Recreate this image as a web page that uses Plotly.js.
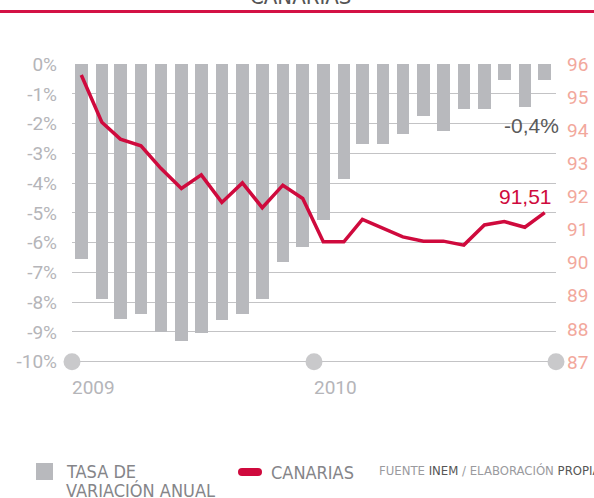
<!DOCTYPE html>
<html>
<head>
<meta charset="utf-8">
<script src="https://cdn.plot.ly/plotly-3.0.1.min.js"></script>
<style>html,body{margin:0;padding:0;background:#fff;}#chart{width:594px;height:498px;}</style>
</head>
<body>
<div id="chart"></div>
<script>
// ---- data ----
const months = ['2009-01-15','2009-02-15','2009-03-15','2009-04-15','2009-05-15','2009-06-15',
                '2009-07-15','2009-08-15','2009-09-15','2009-10-15','2009-11-15','2009-12-15',
                '2010-01-15','2010-02-15','2010-03-15','2010-04-15','2010-05-15','2010-06-15',
                '2010-07-15','2010-08-15','2010-09-15','2010-10-15','2010-11-15','2010-12-15'];
const tasaVariacion = [-6.55,-7.9,-8.55,-8.4,-9.0,-9.3,-9.05,-8.6,-8.4,-7.9,-6.65,-6.15,
                       -5.25,-3.85,-2.7,-2.7,-2.35,-1.75,-2.25,-1.5,-1.5,-0.55,-1.45,-0.55];
const canarias = [95.67,94.24,93.73,93.53,92.85,92.24,92.65,91.82,92.41,91.66,92.34,91.94,
                  90.63,90.63,91.31,91.04,90.78,90.65,90.65,90.53,91.14,91.24,91.07,91.51];
const yearTicks = ['2009-01-01','2010-01-01','2011-01-01'];
const yearLabels = ['2009','2010',''];
const leftTickVals = [0,-1,-2,-3,-4,-5,-6,-7,-8,-9,-10];
const leftTickText = ['0%','-1%','-2%','-3%','-4%','-5%','-6%','-7%','-8%','-9%','-10%'];
const rightTickVals = [87,88,89,90,91,92,93,94,95,96];
const lastRateLabel = '-0,4%';

const narrow = '"DejaVu Sans Condensed", "Liberation Sans Narrow", Roboto, sans-serif';
const helv = '"Liberation Sans", Arial, sans-serif';
const tickFont = 'Roboto, "Liberation Sans", sans-serif';

const traces = [
  {type:'bar', x:months, y:tasaVariacion, yaxis:'y', marker:{color:'#b8b9bd'},
   width:1.63e9, hoverinfo:'skip', showlegend:false},
  {type:'scatter', mode:'lines', x:months, y:canarias, yaxis:'y2',
   line:{color:'#cf0a3d', width:3.5}, hoverinfo:'skip', showlegend:false},
  {type:'scatter', mode:'markers', x:yearTicks, y:[-10,-10,-10], yaxis:'y',
   marker:{color:'#c9c9cb', size:17}, cliponaxis:false, hoverinfo:'skip', showlegend:false}
];

function px2py(p){ return (362 - p) / 298; }
function px2px(p){ return (p - 72) / 484; }

const layout = {
  width:594, height:498, autosize:false,
  margin:{l:72, r:38, t:64, b:136},
  paper_bgcolor:'#fff', plot_bgcolor:'#fff',
  showlegend:false,
  bargap:0,
  xaxis:{type:'date', range:['2009-01-01','2011-01-01'], showgrid:false, zeroline:false,
         showline:false, ticks:'', tickvals:yearTicks, ticktext:yearLabels,
         ticklabelposition:'outside right', ticklabelstandoff:12,
         tickfont:{family:tickFont, size:19, color:'#b5b5b9'}},
  yaxis:{range:[-10.012, 0.004], tickvals:leftTickVals, ticktext:leftTickText, showgrid:true,
         gridcolor:'#c3c3c5', gridwidth:1.2, zeroline:false, showline:false, ticks:'',
         ticklabelstandoff:14, tickfont:{family:tickFont, size:19, color:'#b5b5b9'}},
  yaxis2:{range:[87,96], overlaying:'y', side:'right', tickvals:rightTickVals,
          showgrid:false, zeroline:false, showline:false, ticks:'', ticklabelstandoff:10,
          tickfont:{family:tickFont, size:19, color:'#f2a89c'}},
  shapes:[
    {type:'line', xref:'paper', yref:'y', x0:0, x1:1, y0:-10, y1:-10, layer:'below',
     line:{color:'#c3c3c5', width:1.2}},
    {type:'line', xref:'paper', yref:'paper', x0:-0.2, x1:1.2, y0:px2py(11.5), y1:px2py(11.5),
     line:{color:'#d31145', width:3}},
    {type:'rect', xref:'paper', yref:'paper', x0:px2px(36), x1:px2px(53), y0:px2py(463), y1:px2py(480),
     fillcolor:'#b8b9bd', line:{width:0}},
    {type:'rect', xref:'paper', yref:'paper', x0:px2px(242), x1:px2px(258), y0:px2py(468), y1:px2py(476),
     fillcolor:'#cf0a3d', line:{width:0}},
    {type:'circle', xref:'paper', yref:'paper', x0:px2px(238), x1:px2px(246), y0:px2py(468), y1:px2py(476),
     fillcolor:'#cf0a3d', line:{width:0}},
    {type:'circle', xref:'paper', yref:'paper', x0:px2px(254), x1:px2px(262), y0:px2py(468), y1:px2py(476),
     fillcolor:'#cf0a3d', line:{width:0}}
  ],
  annotations:[
    {text:'CANARIAS', xref:'paper', yref:'paper', x:px2px(300), y:px2py(-4), xanchor:'center', yanchor:'middle',
     showarrow:false, font:{family:narrow, size:22, color:'#555'}},
    {text:lastRateLabel, xref:'paper', yref:'y', x:1, xshift:5, y:-2.05, xanchor:'right', yanchor:'middle',
     showarrow:false, font:{family:helv, size:21, color:'#5a5a5a'}},
    {text:canarias[canarias.length-1].toFixed(2).replace('.', ','), xref:'paper', yref:'y2', x:1, xshift:-2,
     y:92.0, xanchor:'right', yanchor:'middle', showarrow:false, font:{family:helv, size:21, color:'#cf0a3d'}},
    {text:'TASA DE', xref:'paper', yref:'paper', x:px2px(65), y:px2py(471.5),
     xanchor:'left', yanchor:'middle', align:'left', showarrow:false, borderpad:0,
     font:{family:narrow, size:18, color:'#858589'}},
    {text:'VARIACIÓN ANUAL', xref:'paper', yref:'paper', x:px2px(65), y:px2py(490),
     xanchor:'left', yanchor:'middle', align:'left', showarrow:false, borderpad:0,
     font:{family:narrow, size:18, color:'#858589'}},
    {text:'CANARIAS', xref:'paper', yref:'paper', x:px2px(269), y:px2py(472),
     xanchor:'left', yanchor:'middle', showarrow:false, font:{family:narrow, size:18, color:'#858589'}},
    {text:'FUENTE <span style="color:#555">INEM</span> / ELABORACIÓN <span style="color:#555">PROPIA</span>',
     xref:'paper', yref:'paper', x:px2px(377), y:px2py(470), xanchor:'left', yanchor:'middle',
     showarrow:false, font:{family:narrow, size:13, color:'#9a9a9e'}}
  ]
};

Plotly.newPlot('chart', traces, layout, {staticPlot:true, displayModeBar:false});
</script>
</body>
</html>
